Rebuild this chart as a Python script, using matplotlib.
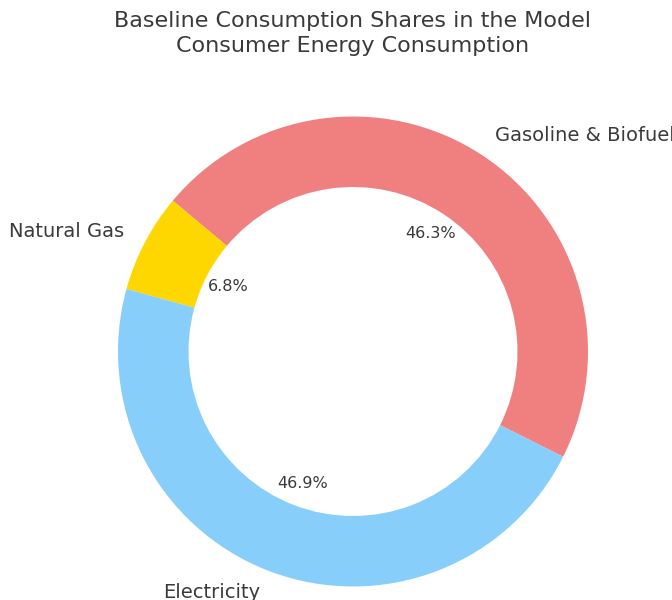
import matplotlib
matplotlib.use('Agg')
import matplotlib.pyplot as plt

# shares of baseline consumer energy consumption (%)
labels = ['Gasoline & Biofuel', 'Natural Gas', 'Electricity']
shares = [46.3, 6.8, 46.9]
colors = ['lightcoral', 'gold', 'lightskyblue']

fig = plt.figure(figsize=(6.72, 6.0), dpi=100)
ax = fig.add_axes([0, 0, 1, 1])

wedges, texts, autotexts = ax.pie(shares, labels=labels, colors=colors,
                                  autopct='%1.1f%%', startangle=-26.6,
                                  pctdistance=0.6, labeldistance=1.1,
                                  wedgeprops=dict(width=0.3),
                                  textprops=dict(color='#3a3a3a'))
for t in texts:
    t.set_fontsize(14)
for t in autotexts:
    t.set_fontsize(11.5)

# place the pie: centre at (353, 351) px from top-left, radius 235 px
r = 235.0
cx, cy = 353.0, 600 - 351.5
ax.set_xlim(-cx / r, (672 - cx) / r)
ax.set_ylim(-cy / r, (600 - cy) / r)
ax.set_aspect('auto')
ax.axis('off')

fig.text(352.5 / 672, 1 - 11 / 600,
         'Baseline Consumption Shares in the Model\nConsumer Energy Consumption',
         ha='center', va='top', fontsize=16, color='#3a3a3a', linespacing=1.3)

fig.savefig('out.png', dpi=100)
